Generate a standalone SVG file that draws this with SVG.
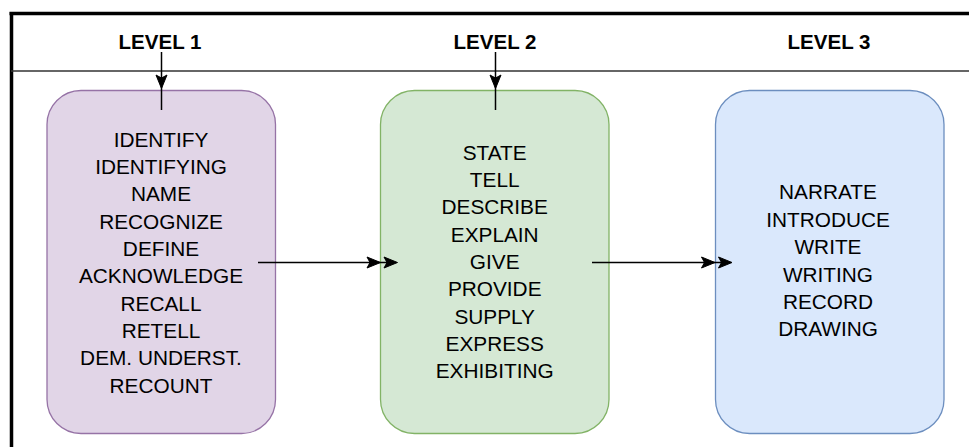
<svg xmlns="http://www.w3.org/2000/svg" width="969" height="447" viewBox="0 0 969 447">
<style>
.hdr{font-family:"Liberation Sans",Arial,Helvetica,sans-serif;font-size:20.5px;font-weight:bold;fill:#000;text-anchor:middle}
.lbl{font-family:"Liberation Sans",Arial,Helvetica,sans-serif;font-size:20.8px;fill:#000;text-anchor:middle}
.edge{stroke:#000;stroke-width:1.5;fill:none}
.head{fill:#000;stroke:#000;stroke-width:1}
</style>
<rect width="969" height="447" fill="#fff"/>
<g id="frame">
<line x1="9.5" y1="13.5" x2="969" y2="13.5" stroke="#000" stroke-width="3.5"/>
<line x1="11.5" y1="12" x2="11.5" y2="447" stroke="#000" stroke-width="3.5"/>
<line x1="11" y1="71" x2="969" y2="71" stroke="#333" stroke-width="1.5"/>
</g>
<g id="level1-header"><text class="hdr" x="160" y="49">LEVEL 1</text></g>
<g id="level2-header"><text class="hdr" x="495" y="49">LEVEL 2</text></g>
<g id="level3-header"><text class="hdr" x="829" y="49">LEVEL 3</text></g>
<g id="level1">
<rect x="47" y="90.5" width="228.5" height="343" rx="34" ry="34" fill="#e1d5e7" stroke="#9673a6" stroke-width="1.3"/>
<text class="lbl" x="161" y="146.8">IDENTIFY</text>
<text class="lbl" x="161" y="174.1">IDENTIFYING</text>
<text class="lbl" x="161" y="201.4">NAME</text>
<text class="lbl" x="161" y="228.7">RECOGNIZE</text>
<text class="lbl" x="161" y="256">DEFINE</text>
<text class="lbl" x="161" y="283.3">ACKNOWLEDGE</text>
<text class="lbl" x="161" y="310.6">RECALL</text>
<text class="lbl" x="161" y="337.9">RETELL</text>
<text class="lbl" x="161" y="365.2">DEM. UNDERST.</text>
<text class="lbl" x="161" y="392.5">RECOUNT</text>
</g>
<g id="level2">
<rect x="380.5" y="90.5" width="228.5" height="343" rx="34" ry="34" fill="#d5e8d4" stroke="#82b366" stroke-width="1.3"/>
<text class="lbl" x="494.7" y="159.8">STATE</text>
<text class="lbl" x="494.7" y="187.1">TELL</text>
<text class="lbl" x="494.7" y="214.4">DESCRIBE</text>
<text class="lbl" x="494.7" y="241.7">EXPLAIN</text>
<text class="lbl" x="494.7" y="269">GIVE</text>
<text class="lbl" x="494.7" y="296.3">PROVIDE</text>
<text class="lbl" x="494.7" y="323.6">SUPPLY</text>
<text class="lbl" x="494.7" y="350.9">EXPRESS</text>
<text class="lbl" x="494.7" y="378.2">EXHIBITING</text>
</g>
<g id="level3">
<rect x="715.5" y="90.5" width="228.5" height="343" rx="34" ry="34" fill="#dae8fc" stroke="#6c8ebf" stroke-width="1.3"/>
<text class="lbl" x="828" y="199.3">NARRATE</text>
<text class="lbl" x="828" y="226.7">INTRODUCE</text>
<text class="lbl" x="828" y="254.1">WRITE</text>
<text class="lbl" x="828" y="281.5">WRITING</text>
<text class="lbl" x="828" y="308.9">RECORD</text>
<text class="lbl" x="828" y="336.3">DRAWING</text>
</g>
<g id="connectors">
<line class="edge" x1="161.5" y1="52" x2="161.5" y2="110"/>
<polygon class="head" points="156,75 161.5,78 167,75 161.5,88.5"/>
<line class="edge" x1="495.5" y1="52" x2="495.5" y2="110"/>
<polygon class="head" points="490,75 495.5,78 501,75 495.5,88.5"/>
<line class="edge" x1="258" y1="262.5" x2="394" y2="262.5"/>
<polygon class="head" points="367,257 380.5,262.5 367,268 370,262.5"/>
<polygon class="head" points="384,257 397.5,262.5 384,268 387,262.5"/>
<line class="edge" x1="592" y1="262.5" x2="729" y2="262.5"/>
<polygon class="head" points="701.5,257 715,262.5 701.5,268 704.5,262.5"/>
<polygon class="head" points="718.5,257 732,262.5 718.5,268 721.5,262.5"/>
</g>
</svg>
